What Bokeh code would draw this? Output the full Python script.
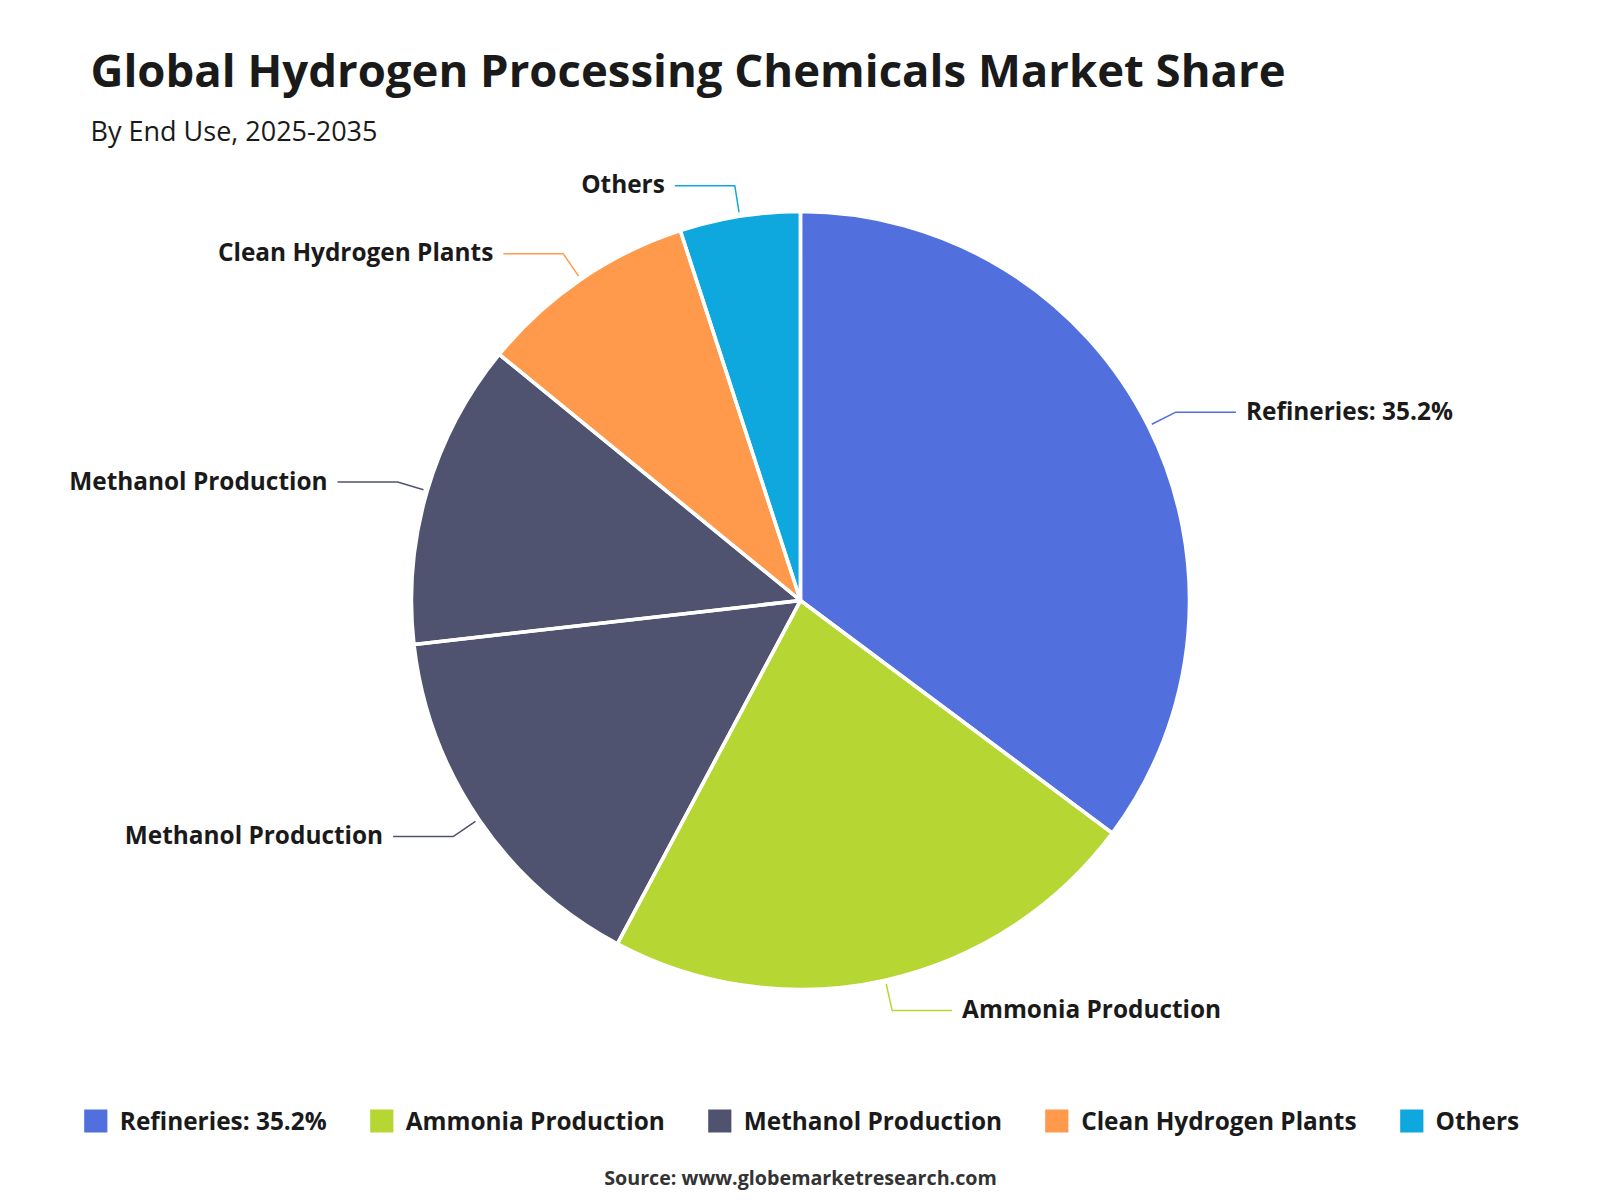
import math
from bokeh.plotting import figure
from bokeh.models import Label, Legend, LegendItem, ColumnDataSource
from bokeh.core.properties import value
from bokeh.embed import file_html
from bokeh.resources import INLINE

# ---- data ----
categories = ["Refineries: 35.2%", "Ammonia Production", "Methanol Production",
              "Methanol Production", "Clean Hydrogen Plants", "Others"]
shares = [35.2, 22.6, 15.4, 12.7, 9.1, 5.0]
colors = ["#5170DD", "#B6D733", "#505370", "#505370", "#FF9A4D", "#0EA8DE"]
legend_labels = ["Refineries: 35.2%", "Ammonia Production", "Methanol Production",
                 "Clean Hydrogen Plants", "Others"]
legend_index = [0, 1, 2, 4, 5]

FONT = "Open Sans"
W, H = 1600, 1200
CX, CY, R = 800, 600, 389

total = sum(shares)
starts, ends, mids = [], [], []
acc = 0.0
for s in shares:
    a0 = acc / total * 360.0
    acc += s
    a1 = acc / total * 360.0
    starts.append(math.radians(90 - a0))
    ends.append(math.radians(90 - a1))
    mids.append(math.radians((a0 + a1) / 2))

src = ColumnDataSource(dict(start=starts, end=ends, color=colors, label=categories))

p = figure(width=W, height=H, x_range=(0, W), y_range=(0, H),
           output_backend="svg", toolbar_location=None, min_border=0)
p.axis.visible = False
p.grid.visible = False
p.outline_line_color = None
p.background_fill_color = "white"

fill_r = p.wedge(x=CX, y=CY, radius=R, start_angle="start", end_angle="end",
                 direction="clock", fill_color="color", line_color=None, source=src)
p.wedge(x=CX, y=CY, radius=R, start_angle="start", end_angle="end",
        direction="clock", fill_alpha=0, line_color="white", line_width=3.5,
        line_join="round", source=src)

# leader lines and labels
xs, ys, tx, ty, align = [], [], [], [], []
for m in mids:
    dx, dy = math.sin(m), math.cos(m)
    x1, y1 = CX + (R + 4) * dx, CY + (R + 4) * dy
    x2, y2 = CX + (R + 31) * dx, CY + (R + 31) * dy
    sgn = 1 if dx >= 0 else -1
    x3 = x2 + sgn * 60
    xs.append([x1, x2, x3]); ys.append([y1, y2, y2])
    tx.append(x3 + sgn * 10); ty.append(y2 + 2)
    align.append("left" if sgn > 0 else "right")

lsrc = ColumnDataSource(dict(xs=xs, ys=ys, color=colors))
p.multi_line(xs="xs", ys="ys", line_color="color", line_width=1.5, source=lsrc)
tsrc = ColumnDataSource(dict(x=tx, y=ty, text=categories, align=align))
p.text(x="x", y="y", text="text", text_align="align", text_baseline="middle",
       text_font=value(FONT), text_font_style="bold", text_font_size="24.4px",
       text_color="#1a1a1a", source=tsrc)

# titles
p.add_layout(Label(x=90, y=H - 68, x_units="screen", y_units="screen",
                   text="Global Hydrogen Processing Chemicals Market Share",
                   text_font=FONT, text_font_style="bold", text_font_size="45.5px",
                   text_color="#1a1a1a", text_baseline="alphabetic"))
p.add_layout(Label(x=90, y=H - 130, x_units="screen", y_units="screen",
                   text="By End Use, 2025-2035",
                   text_font=FONT, text_font_size="27px",
                   text_color="#1a1a1a", text_baseline="alphabetic"))
p.add_layout(Label(x=W / 2, y=H - 1177, x_units="screen", y_units="screen",
                   text="Source: www.globemarketresearch.com",
                   text_font=FONT, text_font_size="19.7px", text_font_style="bold",
                   text_color="#333333", text_align="center", text_baseline="middle"))

legend = Legend(items=[LegendItem(label=lab, renderers=[fill_r], index=i)
                       for lab, i in zip(legend_labels, legend_index)],
                orientation="horizontal", location="bottom", margin=63,
                padding=0, spacing=40, label_standoff=10,
                glyph_width=29, glyph_height=29,
                label_text_font=FONT, label_text_font_style="bold",
                label_text_font_size="24.4px", label_text_color="#1a1a1a",
                border_line_alpha=0, background_fill_alpha=0)
p.add_layout(legend, "center")

open("out.html", "w").write(file_html(p, INLINE))
